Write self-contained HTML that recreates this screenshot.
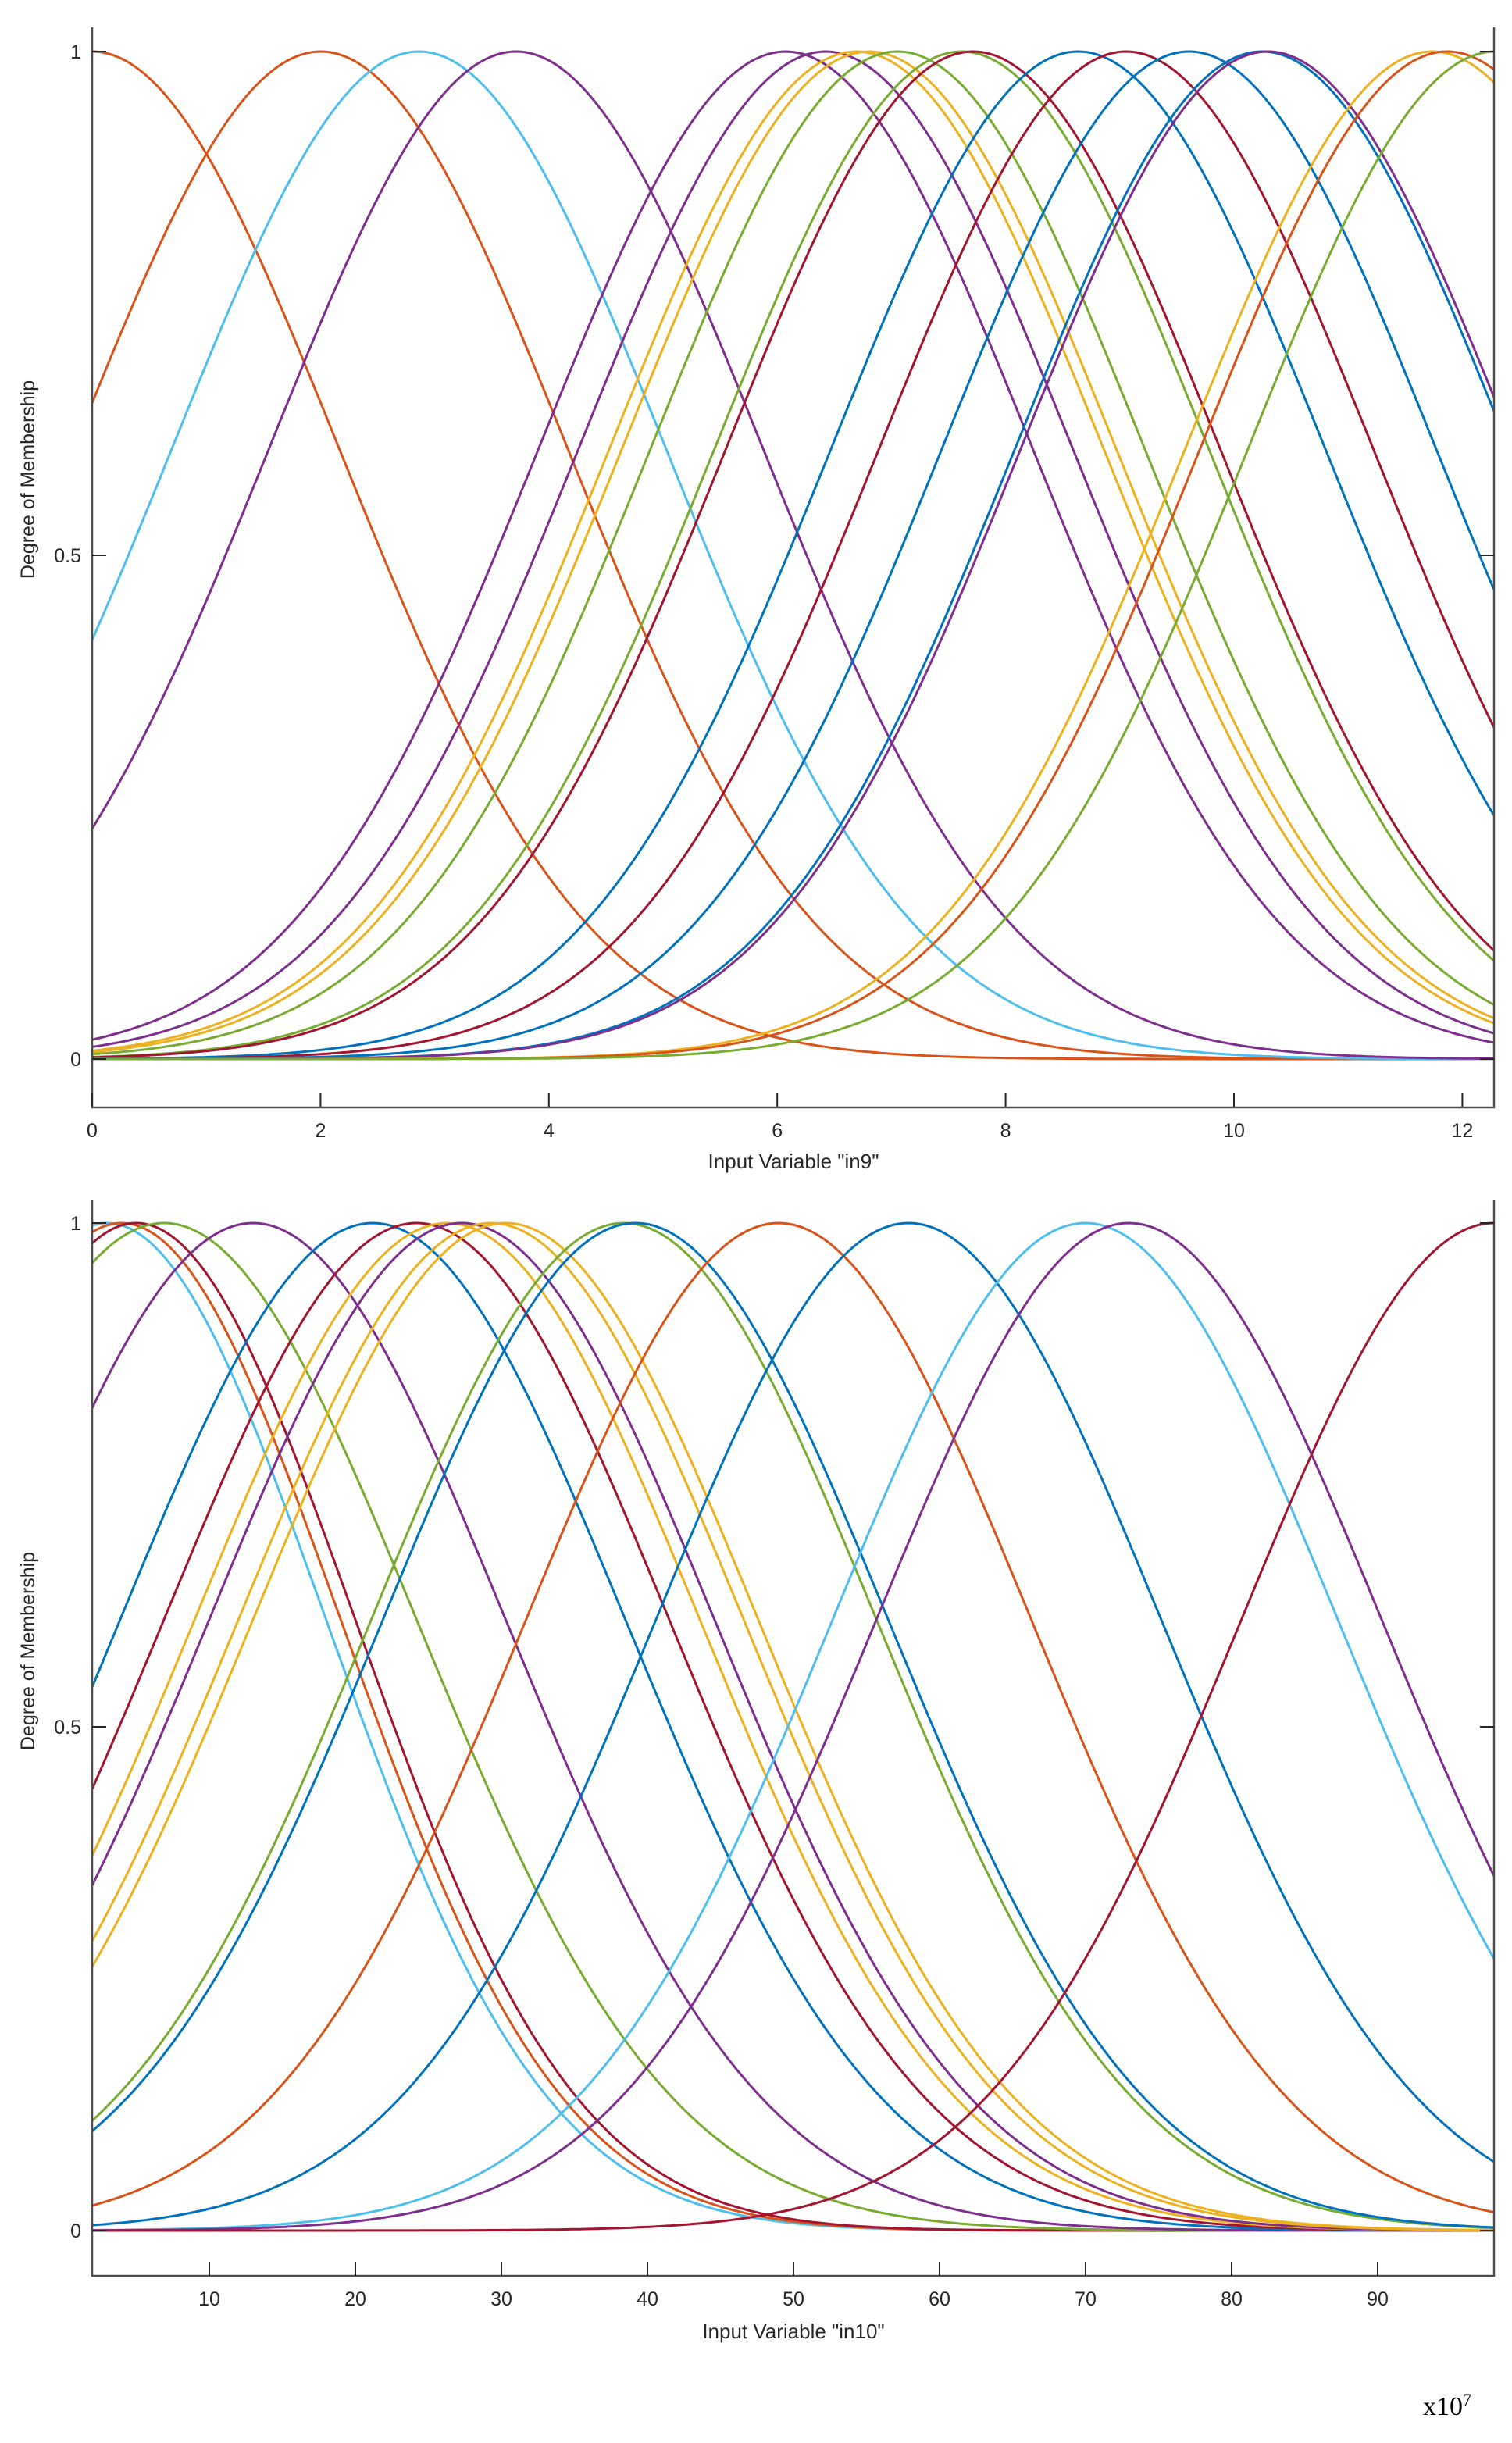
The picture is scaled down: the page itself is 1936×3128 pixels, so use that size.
<!DOCTYPE html>
<html><head><meta charset="utf-8"><style>
html,body{margin:0;padding:0;background:#fff;width:1936px;height:3128px;overflow:hidden}
svg{display:block}
text{font-family:"Liberation Sans",Arial,sans-serif;fill:#262626}
</style></head><body>
<svg id="s" width="1936" height="3128" xmlns="http://www.w3.org/2000/svg">
<defs>
<clipPath id="c1"><rect x="118" y="35" width="1795" height="1383"/></clipPath>
<clipPath id="c2"><rect x="118" y="1536" width="1795" height="1378"/></clipPath>
</defs>
<g id="g1" clip-path="url(#c1)"></g>
<g id="g2" clip-path="url(#c2)"></g>
<g id="axes" stroke="#4d4d4d" stroke-width="2.5" fill="none">
<path d="M118,35 V1418 H1913 V35"/>
<path d="M118,1536 V2914 H1913 V1536"/>
</g>
<g id="ticks" stroke="#262626" stroke-width="2"></g>
<g id="labels" font-size="25"></g>
<text x="44" y="614" font-size="25" text-anchor="middle" transform="rotate(-90 44 614)">Degree of Membership</text>
<text x="44" y="2114" font-size="25" text-anchor="middle" transform="rotate(-90 44 2114)">Degree of Membership</text>
<text x="1016" y="1496" font-size="26" text-anchor="middle">Input Variable "in9"</text>
<text x="1016" y="2994" font-size="26" text-anchor="middle">Input Variable "in10"</text>
<text x="1822" y="3092" font-size="34" style="font-family:'Liberation Serif',serif;fill:#000">x10<tspan font-size="22" dy="-12">7</tspan></text>
</svg>
<script>
var C={b:"#0072BD",o:"#D95319",y:"#EDB120",p:"#7E2F8E",g:"#77AC30",c:"#4DBEEE",r:"#A2142F"};
var NS="http://www.w3.org/2000/svg";
function draw(gid,x0,x1,px0,px1,py0,py1,curves){
 var g=document.getElementById(gid);
 curves.forEach(function(cv){
  var d="";for(var i=0;i<=400;i++){var x=x0+(x1-x0)*i/400;var v=Math.exp(-(x-cv[1])*(x-cv[1])/(2*cv[2]*cv[2]));
  var X=px0+(px1-px0)*i/400,Y=py0+(py1-py0)*v;d+=(i?"L":"M")+X.toFixed(1)+","+Y.toFixed(1);}
  var p=document.createElementNS(NS,"path");p.setAttribute("d",d);p.setAttribute("fill","none");
  p.setAttribute("stroke",C[cv[0]]);p.setAttribute("stroke-width","3");g.appendChild(p);});
}
var s1=2.16;
draw("g1",0,12.27,118,1913,1356,66,[["o",0,s1],["o",2.0,s1],["c",2.86,s1],["p",3.71,s1],["p",6.07,s1],["p",6.42,s1],["y",6.69,s1],["y",6.8,s1],["g",7.05,s1],["g",7.61,s1],["r",7.71,s1],["b",8.63,s1],["r",9.05,s1],["b",9.6,s1],["b",10.24,s1],["p",10.29,s1],["y",11.73,s1],["o",11.86,s1],["g",12.28,s1]]);
var s2=17.3;
draw("g2",1.98,98,118,1913,2856,1566,[["c",3,15],["o",4,15],["r",5,15],["g",6.9,s2],["p",13,s2],["b",21.2,s2],["r",24.2,s2],["y",26.3,s2],["p",27.3,s2],["y",29.3,s2],["y",30.3,s2],["g",38.4,s2],["b",39.2,s2],["o",49,s2],["b",57.9,s2],["c",70,s2],["p",73,s2],["r",98,s2]]);
var t=document.getElementById("ticks"),L=document.getElementById("labels");
function line(a,b,c,d){var l=document.createElementNS(NS,"line");l.setAttribute("x1",a);l.setAttribute("y1",b);l.setAttribute("x2",c);l.setAttribute("y2",d);t.appendChild(l);}
function txt(x,y,s,anc){var e=document.createElementNS(NS,"text");e.setAttribute("x",x);e.setAttribute("y",y);e.setAttribute("text-anchor",anc);e.textContent=s;L.appendChild(e);}
[[1356,"0"],[711,"0.5"],[66,"1"]].forEach(function(a){line(118,a[0],136,a[0]);line(1913,a[0],1895,a[0]);txt(104,a[0]+9,a[1],"end");});
[[2856,"0"],[2211,"0.5"],[1566,"1"]].forEach(function(a){line(118,a[0],136,a[0]);line(1913,a[0],1895,a[0]);txt(104,a[0]+9,a[1],"end");});
for(var k=0;k<=12;k+=2){var X=118+k*146.2;line(X,1418,X,1400);txt(X,1456,""+k,"middle");}
for(var k=10;k<=90;k+=10){var X=268+(k-10)*18.7;line(X,2914,X,2896);txt(X,2952,""+k,"middle");}
</script>
</body></html>
